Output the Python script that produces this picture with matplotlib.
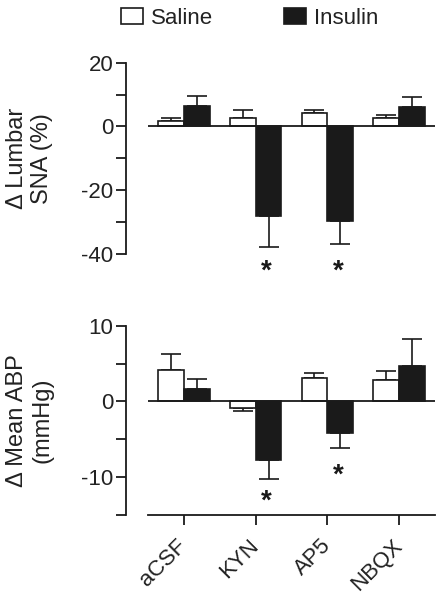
import matplotlib
matplotlib.use("Agg")
import matplotlib.pyplot as plt
from matplotlib.patches import Patch
import numpy as np

plt.rcParams['font.family'] = ['Liberation Sans', 'DejaVu Sans']
plt.rcParams['axes.unicode_minus'] = False

categories = ["aCSF", "KYN", "AP5", "NBQX"]

saline_sna = [1.7, 2.8, 4.3, 2.6]
saline_sna_sem = [0.9, 2.5, 1.0, 1.0]
insulin_sna = [6.4, -28.0, -29.6, 6.0]
insulin_sna_sem = [3.1, 9.7, 7.4, 3.2]

saline_abp = [4.1, -0.9, 3.1, 2.8]
saline_abp_sem = [2.1, 0.4, 0.7, 1.2]
insulin_abp = [1.6, -7.7, -4.2, 4.7]
insulin_abp_sem = [1.4, 2.5, 1.9, 3.5]

sig_sna = [False, True, True, False]
sig_abp = [False, True, True, False]

TXT = '#222222'
DARK = '#1a1a1a'
FS = 16

fig = plt.figure(figsize=(4.38, 6.0), dpi=100)
ax1 = fig.add_axes([0.2877, 0.5767, 0.7055, 0.3188])
ax2 = fig.add_axes([0.2877, 0.1417, 0.7055, 0.3155])

x = np.arange(len(categories))
w = 0.36


def one_sided(vals, sems):
    lo = [s if v < 0 else 0 for v, s in zip(vals, sems)]
    hi = [s if v >= 0 else 0 for v, s in zip(vals, sems)]
    return [lo, hi]


def draw(ax, sal, sal_e, ins, ins_e, ylim, major, minor, ylabel, sig, star_y, bottom_axis):
    ax.bar(x - w / 2, sal, width=w, color='white', edgecolor=DARK, linewidth=1.2, zorder=3)
    ax.bar(x + w / 2, ins, width=w, color=DARK, edgecolor=DARK, linewidth=1.2, zorder=3)
    ax.errorbar(x - w / 2, sal, yerr=one_sided(sal, sal_e), fmt='none', ecolor=DARK,
                elinewidth=1.2, capsize=7.5, capthick=1.2, zorder=2)
    ax.errorbar(x + w / 2, ins, yerr=one_sided(ins, ins_e), fmt='none', ecolor=DARK,
                elinewidth=1.2, capsize=7.5, capthick=1.2, zorder=2)
    ax.hlines(0, -0.5, 3.5, color=DARK, linewidth=1.3, zorder=4)
    ax.set_xlim(-0.807, 3.5)
    ax.set_ylim(*ylim)
    ax.set_yticks(minor, minor=True)
    ax.set_yticks(major)
    ax.set_yticklabels([str(v) for v in major])
    for s in ['top', 'right']:
        ax.spines[s].set_visible(False)
    ax.spines['left'].set_linewidth(1.3)
    ax.spines['left'].set_color(DARK)
    ax.tick_params(axis='y', which='both', direction='out', length=7, width=1.3,
                   colors=DARK, labelcolor=TXT, labelsize=FS, pad=2)
    ax.tick_params(axis='y', which='minor', length=7)
    if bottom_axis:
        ax.spines['bottom'].set_bounds(-0.5, 3.5)
        ax.spines['bottom'].set_linewidth(1.3)
        ax.spines['bottom'].set_color(DARK)
        ax.set_xticks(x)
        ax.set_xticklabels(categories, rotation=45, ha='right', va='center',
                           rotation_mode='anchor', fontsize=FS, color=TXT)
        ax.tick_params(axis='x', direction='out', length=7, width=1.3, colors=DARK,
                       labelcolor=TXT, pad=13)
    else:
        ax.spines['bottom'].set_visible(False)
        ax.set_xticks([])
    ax.set_ylabel(ylabel, fontsize=17, color=TXT, linespacing=1.2)
    ax.yaxis.set_label_coords(-0.235, 0.5)
    for i, (s, yy) in enumerate(zip(sig, star_y)):
        if s:
            ax.text(x[i] + w / 2 - 0.03, yy, '*', ha='center', va='center', fontsize=20,
                    fontweight='bold', color=DARK, clip_on=False)


draw(ax1, saline_sna, saline_sna_sem, insulin_sna, insulin_sna_sem, (-40, 20),
     [20, 0, -20, -40], [10, -10, -30], '\u0394 Lumbar\nSNA (%)', sig_sna,
     [-45.5, -45.5, -45.5, -45.5], False)
draw(ax2, saline_abp, saline_abp_sem, insulin_abp, insulin_abp_sem, (-15, 10),
     [10, 0, -10], [5, -5, -15], '\u0394 Mean ABP\n(mmHg)', sig_abp,
     [0, -13.3, -9.8, 0], True)

handles = [Patch(facecolor='white', edgecolor=DARK, linewidth=1.2, label='Saline'),
           Patch(facecolor=DARK, edgecolor=DARK, linewidth=1.2, label='Insulin')]
fig.legend(handles=handles, loc='center', bbox_to_anchor=(0.570, 0.970), ncol=2,
           frameon=False, fontsize=FS, handlelength=1.0, handleheight=0.75,
           handletextpad=0.35, columnspacing=3.2, labelcolor=TXT)

fig.savefig('out.png', dpi=100)
